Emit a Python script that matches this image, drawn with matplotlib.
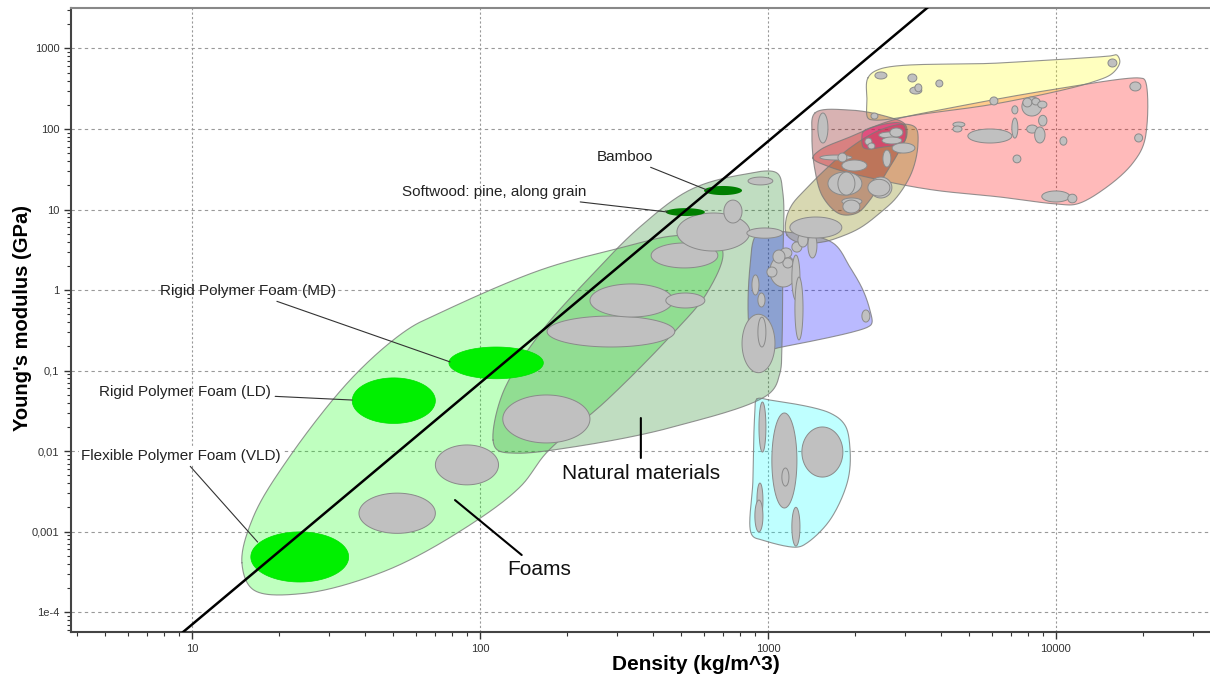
import numpy as np
import matplotlib.pyplot as plt

plt.rcParams['font.family'] = ['Liberation Sans', 'DejaVu Sans']

# ---- family envelopes: outline points (density kg/m^3, Young's modulus GPa) ----
foam_rho = [14.9, 16.3, 24.3, 47.5, 90, 138, 171, 276, 468, 614, 698, 644, 468, 314, 162, 72.6, 55.8, 36.2, 21.4, 16.3]
foam_E = [4.1e-4, 1.9e-4, 1.7e-4, 3.3e-4, 1.14e-3, 3.6e-3, 9.7e-3, 0.043, 0.29, 0.92, 2.9, 4.55, 4.7, 3.4, 1.77, 0.52, 0.32, 0.083, 7.7e-3, 1.5e-3]

natural_rho = [111, 120, 162, 241, 359, 536, 800, 1075, 1127, 1127, 1118, 1101, 1016, 468, 210, 134, 115]
natural_E = [0.0137, 0.0525, 0.292, 1.45, 6.06, 17.5, 26.8, 28.4, 16.0, 2.36, 0.196, 0.093, 0.0525, 0.0199, 0.0112, 9.4e-3, 0.0103]

polymer_rho = [923, 1164, 1682, 1926, 2138, 2260, 2297, 2224, 1118, 961, 880, 866]
polymer_E = [5.1, 5.25, 3.84, 1.93, 1.0, 0.565, 0.389, 0.347, 0.196, 0.18, 0.239, 1.93]

elastomer_rho = [916, 1016, 1642, 1851, 1926, 1896, 1642, 1366, 1261, 961, 880, 887, 901]
elastomer_E = [0.0443, 0.043, 0.0297, 0.021, 0.0112, 4.36e-3, 1.39e-3, 7.2e-4, 6.4e-4, 7.8e-4, 9.05e-4, 4.36e-3, 0.0297]

composite_rho = [1164, 1155, 1211, 1344, 1577, 1926, 2449, 2990, 3265, 3318, 3162, 2805, 2449, 2086, 1778, 1552, 1292]
composite_E = [4.82, 7.41, 11.4, 17.5, 31, 58.1, 97.2, 115, 103, 63.2, 29.2, 14.3, 9.05, 5.89, 4.55, 3.95, 3.84]

glass_rho = [1456, 1926, 2548, 2990, 3038, 2873, 2548, 2260, 2037, 1778, 1552, 1456, 1422]
glass_E = [158, 172, 145, 115, 84, 54.8, 26.8, 13.1, 9.05, 8.8, 14.3, 31, 84]

metal_rho = [1433, 1516, 1926, 2652, 4283, 9532, 19570, 20370, 20370, 18510, 15030, 11830, 10080, 6390, 3740, 2449, 1642]
metal_E = [43.6, 54.8, 79.6, 126, 182, 305, 430, 406, 73, 37.8, 19.0, 11.7, 11.7, 14.3, 17.5, 23.2, 33.7]

ceramic_rho = [2224, 2449, 6390, 15400, 16280, 16680, 15770, 13440, 6390, 3652, 2353, 2224, 2208]
ceramic_E = [430, 556, 661, 807, 830, 679, 496, 384, 210, 158, 129, 137, 229]

nontech_rho = [2138, 2315, 2873, 2990, 3013, 2942, 2508, 2208, 2138, 2120]
nontech_E = [91.8, 106, 119, 106, 79.6, 67, 59.8, 56.5, 59.8, 79.6]

# ---- material bubbles: density range, modulus range ----
grey_rho_lo = [38, 70, 120, 171, 241, 442, 393, 483, 703, 845, 853, 813, 923,
               880, 923, 1016, 1101, 1211, 1271, 1377, 1127, 1211, 1241, 1041, 992, 2120,
               1192,
               931, 1032, 1118, 1312, 916, 901, 1211,
               1491, 1516, 1750, 1806, 1616, 1750, 2260, 2224, 1806, 1821, 2508,
               2172, 2224, 2427, 2490, 2652, 2805, 2700,
               2353, 3063, 3111, 3239, 3830, 5900, 15170, 2280,
               4390, 4390, 4947, 7033, 7033, 7620, 7680, 8255, 8650, 8710, 7920, 8440,
               10330, 7100, 8935, 11000, 18070, 18780]
grey_rho_hi = [70, 116, 241, 475, 468, 604, 670, 866, 813, 1127, 1040, 1058, 984,
               931, 977, 1261, 1211, 1312, 1377, 1480, 1221, 1292, 1324, 1146, 1075, 2260,
               1806,
               984, 1261, 1183, 1821, 961, 961, 1292,
               1616, 1957, 1880, 2208, 2120, 2005, 2695, 2652, 2120, 2086, 2673,
               2297, 2353, 2873, 2917, 2942, 2942, 3239,
               2590, 3290, 3424, 3424, 4050, 6290, 16290, 2410,
               4830, 4720, 7033, 7380, 7380, 8935, 8255, 8800, 9310, 9310, 8650, 9170,
               10920, 7560, 11180, 11830, 19740, 20010]
grey_E_lo = [9.5e-4, 3.8e-3, 0.0126, 0.196, 0.462, 0.598, 1.88, 3.05, 6.8, 4.4, 20.2, 0.094, 0.196,
             0.867, 0.615, 1.09, 2.5, 2.96, 3.42, 2.5, 1.88, 0.75, 0.24, 2.16, 1.45, 0.40,
             4.43,
             9.7e-3, 1.96e-3, 3.67e-3, 4.75e-3, 1.47e-3, 9.9e-4, 6.6e-4,
             67, 41.2, 38.9, 30.1, 15.1, 15.1, 13.9, 14.7, 11.4, 9.05, 33.7,
             63.2, 56.5, 77.1, 65.2, 79.6, 50.3, 50.3,
             418, 384, 272, 290, 333, 199, 589, 133,
             106, 91.8, 67, 77.1, 154, 145, 188, 199, 182, 109, 89, 67,
             63, 38, 12.4, 12.1, 297, 69]
grey_E_hi = [3.0e-3, 0.0119, 0.0497, 0.475, 1.19, 0.918, 3.84, 9.05, 13.1, 5.9, 25.3, 0.50, 0.46,
             1.54, 0.918, 2.72, 3.33, 3.95, 5.1, 5.1, 2.5, 2.72, 1.45, 3.14, 1.93, 0.565,
             8.07,
             0.0406, 0.0297, 6.15e-3, 0.0199, 4.0e-3, 2.46e-3, 2.0e-3,
             158, 47.5, 50.3, 41.2, 29.2, 29.2, 25.3, 23.7, 13.9, 13.1, 54.8,
             77.1, 67, 91.8, 79.6, 103, 67, 67,
             511, 482, 333, 363, 406, 250, 741, 158,
             122, 109, 100, 137, 194, 250, 242, 242, 222, 148, 112, 106,
             80, 47.5, 17.0, 15.5, 384, 87]

# highlighted foams
foam_names = ['Flexible Polymer Foam (VLD)', 'Rigid Polymer Foam (LD)', 'Rigid Polymer Foam (MD)']
foam_rho_lo = [16.0, 36, 78]
foam_rho_hi = [35, 70, 166]
foam_E_lo = [2.36e-4, 0.022, 0.079]
foam_E_hi = [9.9e-4, 0.081, 0.196]

# highlighted woods
wood_names = ['Bamboo', 'Softwood: pine, along grain']
wood_rho_lo = [600, 442]
wood_rho_hi = [813, 604]
wood_E_lo = [15.1, 8.3]
wood_E_hi = [19.6, 10.4]

# guide line E ~ rho^3
guide_const = 7e-8
guide_power = 3

# one decade of density is ~3.6x wider on screen than one decade of modulus
DECADE_ASPECT = 288 / 80.5


def smooth_outline(rho, E, n=30, alpha=0.5):
    # closed centripetal Catmull-Rom spline through the outline points (log space)
    P = np.column_stack([np.log10(rho) * DECADE_ASPECT, np.log10(E)])
    N = len(P)
    segs = []
    for i in range(N):
        p0, p1, p2, p3 = P[(i - 1) % N], P[i], P[(i + 1) % N], P[(i + 2) % N]
        t0 = 0.0
        t1 = t0 + np.linalg.norm(p1 - p0) ** alpha
        t2 = t1 + np.linalg.norm(p2 - p1) ** alpha
        t3 = t2 + np.linalg.norm(p3 - p2) ** alpha
        t = np.linspace(t1, t2, n, endpoint=False)[:, None]
        a1 = (t1 - t) / (t1 - t0) * p0 + (t - t0) / (t1 - t0) * p1
        a2 = (t2 - t) / (t2 - t1) * p1 + (t - t1) / (t2 - t1) * p2
        a3 = (t3 - t) / (t3 - t2) * p2 + (t - t2) / (t3 - t2) * p3
        b1 = (t2 - t) / (t2 - t0) * a1 + (t - t0) / (t2 - t0) * a2
        b2 = (t3 - t) / (t3 - t1) * a2 + (t - t1) / (t3 - t1) * a3
        segs.append((t2 - t) / (t2 - t1) * b1 + (t - t1) / (t2 - t1) * b2)
    out = np.vstack(segs)
    return 10 ** (out[:, 0] / DECADE_ASPECT), 10 ** out[:, 1]


def bubble_outline(rlo, rhi, elo, ehi, n=90):
    cx = (np.log10(rlo) + np.log10(rhi)) / 2
    cy = (np.log10(elo) + np.log10(ehi)) / 2
    ax_ = (np.log10(rhi) - np.log10(rlo)) / 2
    ay_ = (np.log10(ehi) - np.log10(elo)) / 2
    th = np.linspace(0, 2 * np.pi, n)
    return 10 ** (cx + ax_ * np.cos(th)), 10 ** (cy + ay_ * np.sin(th))


fig = plt.figure(figsize=(12.1, 6.82), dpi=100)
ax = fig.add_axes([0.0587, 0.0733, 0.9413, 0.9157])
ax.set_xscale('log')
ax.set_yscale('log')
ax.set_xlim(3.8, 34300)
ax.set_ylim(5.65e-5, 3230)

envelopes = [
    (foam_rho, foam_E, '#00ff00', 0.25),
    (natural_rho, natural_E, '#17821a', 0.27),
    (polymer_rho, polymer_E, '#0000ff', 0.27),
    (elastomer_rho, elastomer_E, '#00ffff', 0.25),
    (metal_rho, metal_E, '#ff0000', 0.27),
    (ceramic_rho, ceramic_E, '#ffff00', 0.25),
    (composite_rho, composite_E, '#808000', 0.3),
    (glass_rho, glass_E, '#800000', 0.3),
    (nontech_rho, nontech_E, '#e8207e', 0.5),
]
for rho, E, col, a in envelopes:
    xs, ys = smooth_outline(rho, E)
    ax.fill(xs, ys, facecolor=col, alpha=a, edgecolor='none', zorder=2)
    ax.plot(np.append(xs, xs[0]), np.append(ys, ys[0]), color='#7a7a7a', lw=0.8, alpha=0.8, zorder=2.5)

for rlo, rhi, elo, ehi in zip(grey_rho_lo, grey_rho_hi, grey_E_lo, grey_E_hi):
    xs, ys = bubble_outline(rlo, rhi, elo, ehi)
    ax.fill(xs, ys, facecolor='#c0c0c0', edgecolor='#8a8a8a', lw=0.7, zorder=3)

for rlo, rhi, elo, ehi in zip(foam_rho_lo, foam_rho_hi, foam_E_lo, foam_E_hi):
    xs, ys = bubble_outline(rlo, rhi, elo, ehi)
    ax.fill(xs, ys, facecolor='#00f000', edgecolor='#00e000', lw=0.5, zorder=3.5)

for rlo, rhi, elo, ehi in zip(wood_rho_lo, wood_rho_hi, wood_E_lo, wood_E_hi):
    xs, ys = bubble_outline(rlo, rhi, elo, ehi)
    ax.fill(xs, ys, facecolor='#007f00', edgecolor='none', zorder=3.5)

# guide line
gx = np.logspace(0.5, 4.6, 50)
ax.plot(gx, guide_const * gx ** guide_power, color='black', lw=1.8, zorder=5)

# labels
lab = dict(fontsize=11, color='#222222', ha='center', va='center', zorder=6)
arr = dict(arrowstyle='-', color='#333333', lw=0.8, shrinkA=1, shrinkB=0)
ax.annotate('Bamboo', xy=(614, 17.5), xytext=(319, 44.9), arrowprops=arr, **lab)
ax.annotate('Softwood: pine, along grain', xy=(449, 9.3), xytext=(112, 16.5), arrowprops=arr, **lab)
ax.annotate('Rigid Polymer Foam (MD)', xy=(78.7, 0.128), xytext=(15.6, 0.97), arrowprops=arr, **lab)
ax.annotate('Rigid Polymer Foam (LD)', xy=(36, 0.043), xytext=(9.46, 0.054), arrowprops=arr, **lab)
ax.annotate('Flexible Polymer Foam (VLD)', xy=(16.9, 7.4e-4), xytext=(9.16, 8.67e-3), arrowprops=arr,
            bbox=dict(boxstyle='square,pad=0.15', fc='white', ec='none'), **lab)

big = dict(fontsize=15, color='#111111', ha='center', va='center', zorder=6)
arr2 = dict(arrowstyle='-', color='black', lw=1.5, shrinkA=2, shrinkB=0)
ax.annotate('Natural materials', xy=(362, 0.0257), xytext=(362, 5.33e-3), arrowprops=arr2, **big)
ax.annotate('Foams', xy=(81.9, 2.46e-3), xytext=(160, 3.42e-4), arrowprops=arr2, **big)

# axes styling
ax.set_xticks([10, 100, 1000, 10000], ['10', '100', '1000', '10000'])
ax.set_yticks([1e-4, 1e-3, 1e-2, 1e-1, 1, 10, 100, 1000],
              ['1e-4', '0,001', '0,01', '0,1', '1', '10', '100', '1000'])
ax.tick_params(which='major', direction='out', length=5, width=1, labelsize=8, colors='#333333')
ax.tick_params(which='minor', direction='out', length=3, width=0.8, colors='#333333')
ax.grid(False)
for v in [10, 100, 1000, 10000]:
    ax.axvline(v, color='#999999', lw=0.8, ls=(0, (2, 2)), zorder=1)
for v in [1e-4, 1e-3, 1e-2, 1e-1, 1, 10, 100, 1000]:
    ax.axhline(v, color='#999999', lw=0.8, ls=(0, (3, 3)), zorder=1)

ax.spines['right'].set_visible(False)
ax.spines['top'].set_color('#888888')
ax.spines['top'].set_linewidth(1.5)
ax.spines['left'].set_color('#444444')
ax.spines['left'].set_linewidth(1.5)
ax.spines['bottom'].set_color('#444444')
ax.spines['bottom'].set_linewidth(1.5)

ax.set_xlabel('Density (kg/m^3)', fontsize=15, fontweight='bold')
ax.set_ylabel("Young's modulus (GPa)", fontsize=14.5, fontweight='bold')
ax.xaxis.set_label_coords(0.549, -0.037)
ax.yaxis.set_label_coords(-0.034, 0.503)

fig.savefig('out.png', dpi=100)
